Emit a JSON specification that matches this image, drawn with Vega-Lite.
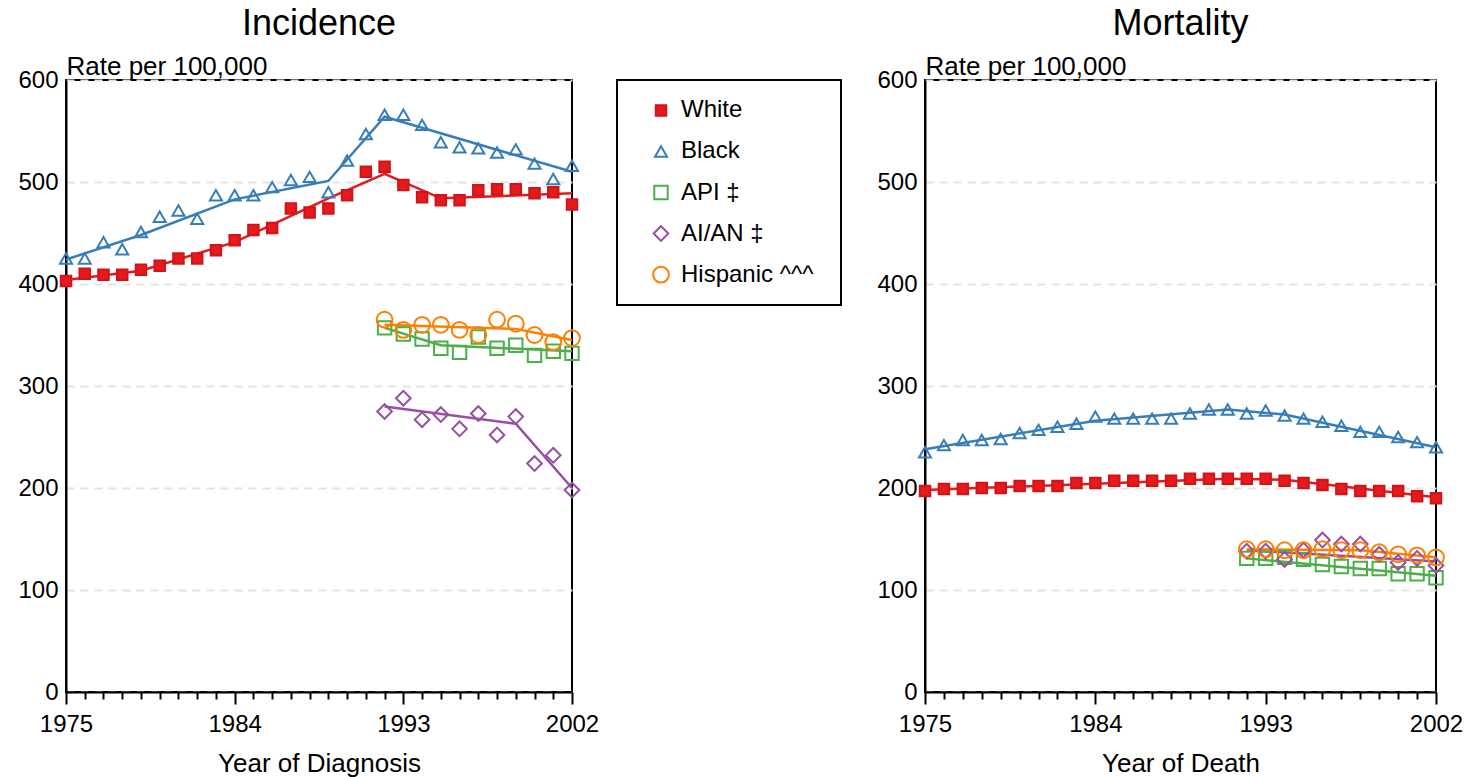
{
  "$schema": "https://vega.github.io/schema/vega-lite/v6.json",
  "background": "white",
  "padding": {"left": 16, "top": 1, "right": 5, "bottom": 0},
  "config": {
    "font": "Liberation Sans",
    "view": {"stroke": "black", "strokeWidth": 2},
    "axis": {
      "labelFont": "Liberation Sans", "labelFontSize": 24, "labelColor": "black",
      "titleFont": "Liberation Sans", "titleFontSize": 26, "titleFontWeight": "normal", "titleColor": "black",
      "domainColor": "black", "domainWidth": 2, "tickColor": "black", "tickWidth": 2
    },
    "title": {"font": "Liberation Sans", "fontSize": 36, "fontWeight": "normal", "color": "black", "offset": 10}
  },
  "datasets": {
    "legend": [
      {"group": "White"},
      {"group": "Black"},
      {"group": "API ‡"},
      {"group": "AI/AN ‡"},
      {"group": "Hispanic ^^^"}
    ],
    "points": [
      {"panel": "Incidence", "group": "White", "year": 1975, "rate": 403},
      {"panel": "Incidence", "group": "White", "year": 1976, "rate": 410},
      {"panel": "Incidence", "group": "White", "year": 1977, "rate": 409},
      {"panel": "Incidence", "group": "White", "year": 1978, "rate": 409},
      {"panel": "Incidence", "group": "White", "year": 1979, "rate": 414},
      {"panel": "Incidence", "group": "White", "year": 1980, "rate": 418},
      {"panel": "Incidence", "group": "White", "year": 1981, "rate": 425},
      {"panel": "Incidence", "group": "White", "year": 1982, "rate": 425},
      {"panel": "Incidence", "group": "White", "year": 1983, "rate": 433},
      {"panel": "Incidence", "group": "White", "year": 1984, "rate": 443},
      {"panel": "Incidence", "group": "White", "year": 1985, "rate": 453},
      {"panel": "Incidence", "group": "White", "year": 1986, "rate": 455},
      {"panel": "Incidence", "group": "White", "year": 1987, "rate": 474},
      {"panel": "Incidence", "group": "White", "year": 1988, "rate": 470},
      {"panel": "Incidence", "group": "White", "year": 1989, "rate": 474},
      {"panel": "Incidence", "group": "White", "year": 1990, "rate": 487},
      {"panel": "Incidence", "group": "White", "year": 1991, "rate": 510},
      {"panel": "Incidence", "group": "White", "year": 1992, "rate": 515},
      {"panel": "Incidence", "group": "White", "year": 1993, "rate": 497},
      {"panel": "Incidence", "group": "White", "year": 1994, "rate": 485},
      {"panel": "Incidence", "group": "White", "year": 1995, "rate": 482},
      {"panel": "Incidence", "group": "White", "year": 1996, "rate": 482},
      {"panel": "Incidence", "group": "White", "year": 1997, "rate": 492},
      {"panel": "Incidence", "group": "White", "year": 1998, "rate": 493},
      {"panel": "Incidence", "group": "White", "year": 1999, "rate": 493},
      {"panel": "Incidence", "group": "White", "year": 2000, "rate": 489},
      {"panel": "Incidence", "group": "White", "year": 2001, "rate": 490},
      {"panel": "Incidence", "group": "White", "year": 2002, "rate": 478},
      {"panel": "Incidence", "group": "Black", "year": 1975, "rate": 425},
      {"panel": "Incidence", "group": "Black", "year": 1976, "rate": 425},
      {"panel": "Incidence", "group": "Black", "year": 1977, "rate": 441},
      {"panel": "Incidence", "group": "Black", "year": 1978, "rate": 434},
      {"panel": "Incidence", "group": "Black", "year": 1979, "rate": 451},
      {"panel": "Incidence", "group": "Black", "year": 1980, "rate": 466},
      {"panel": "Incidence", "group": "Black", "year": 1981, "rate": 472},
      {"panel": "Incidence", "group": "Black", "year": 1982, "rate": 464},
      {"panel": "Incidence", "group": "Black", "year": 1983, "rate": 487},
      {"panel": "Incidence", "group": "Black", "year": 1984, "rate": 487},
      {"panel": "Incidence", "group": "Black", "year": 1985, "rate": 487},
      {"panel": "Incidence", "group": "Black", "year": 1986, "rate": 495},
      {"panel": "Incidence", "group": "Black", "year": 1987, "rate": 502},
      {"panel": "Incidence", "group": "Black", "year": 1988, "rate": 505},
      {"panel": "Incidence", "group": "Black", "year": 1989, "rate": 490},
      {"panel": "Incidence", "group": "Black", "year": 1990, "rate": 521},
      {"panel": "Incidence", "group": "Black", "year": 1991, "rate": 547},
      {"panel": "Incidence", "group": "Black", "year": 1992, "rate": 566},
      {"panel": "Incidence", "group": "Black", "year": 1993, "rate": 566},
      {"panel": "Incidence", "group": "Black", "year": 1994, "rate": 556},
      {"panel": "Incidence", "group": "Black", "year": 1995, "rate": 539},
      {"panel": "Incidence", "group": "Black", "year": 1996, "rate": 534},
      {"panel": "Incidence", "group": "Black", "year": 1997, "rate": 533},
      {"panel": "Incidence", "group": "Black", "year": 1998, "rate": 529},
      {"panel": "Incidence", "group": "Black", "year": 1999, "rate": 532},
      {"panel": "Incidence", "group": "Black", "year": 2000, "rate": 518},
      {"panel": "Incidence", "group": "Black", "year": 2001, "rate": 503},
      {"panel": "Incidence", "group": "Black", "year": 2002, "rate": 516},
      {"panel": "Incidence", "group": "API ‡", "year": 1992, "rate": 357},
      {"panel": "Incidence", "group": "API ‡", "year": 1993, "rate": 351},
      {"panel": "Incidence", "group": "API ‡", "year": 1994, "rate": 346},
      {"panel": "Incidence", "group": "API ‡", "year": 1995, "rate": 337},
      {"panel": "Incidence", "group": "API ‡", "year": 1996, "rate": 333},
      {"panel": "Incidence", "group": "API ‡", "year": 1997, "rate": 348},
      {"panel": "Incidence", "group": "API ‡", "year": 1998, "rate": 337},
      {"panel": "Incidence", "group": "API ‡", "year": 1999, "rate": 340},
      {"panel": "Incidence", "group": "API ‡", "year": 2000, "rate": 330},
      {"panel": "Incidence", "group": "API ‡", "year": 2001, "rate": 334},
      {"panel": "Incidence", "group": "API ‡", "year": 2002, "rate": 332},
      {"panel": "Incidence", "group": "AI/AN ‡", "year": 1992, "rate": 275},
      {"panel": "Incidence", "group": "AI/AN ‡", "year": 1993, "rate": 288},
      {"panel": "Incidence", "group": "AI/AN ‡", "year": 1994, "rate": 267},
      {"panel": "Incidence", "group": "AI/AN ‡", "year": 1995, "rate": 272},
      {"panel": "Incidence", "group": "AI/AN ‡", "year": 1996, "rate": 258},
      {"panel": "Incidence", "group": "AI/AN ‡", "year": 1997, "rate": 273},
      {"panel": "Incidence", "group": "AI/AN ‡", "year": 1998, "rate": 252},
      {"panel": "Incidence", "group": "AI/AN ‡", "year": 1999, "rate": 270},
      {"panel": "Incidence", "group": "AI/AN ‡", "year": 2000, "rate": 224},
      {"panel": "Incidence", "group": "AI/AN ‡", "year": 2001, "rate": 232},
      {"panel": "Incidence", "group": "AI/AN ‡", "year": 2002, "rate": 198},
      {"panel": "Incidence", "group": "Hispanic ^^^", "year": 1992, "rate": 365},
      {"panel": "Incidence", "group": "Hispanic ^^^", "year": 1993, "rate": 355},
      {"panel": "Incidence", "group": "Hispanic ^^^", "year": 1994, "rate": 360},
      {"panel": "Incidence", "group": "Hispanic ^^^", "year": 1995, "rate": 360},
      {"panel": "Incidence", "group": "Hispanic ^^^", "year": 1996, "rate": 355},
      {"panel": "Incidence", "group": "Hispanic ^^^", "year": 1997, "rate": 350},
      {"panel": "Incidence", "group": "Hispanic ^^^", "year": 1998, "rate": 365},
      {"panel": "Incidence", "group": "Hispanic ^^^", "year": 1999, "rate": 361},
      {"panel": "Incidence", "group": "Hispanic ^^^", "year": 2000, "rate": 350},
      {"panel": "Incidence", "group": "Hispanic ^^^", "year": 2001, "rate": 343},
      {"panel": "Incidence", "group": "Hispanic ^^^", "year": 2002, "rate": 347},
      {"panel": "Mortality", "group": "White", "year": 1975, "rate": 197},
      {"panel": "Mortality", "group": "White", "year": 1976, "rate": 199},
      {"panel": "Mortality", "group": "White", "year": 1977, "rate": 199},
      {"panel": "Mortality", "group": "White", "year": 1978, "rate": 200},
      {"panel": "Mortality", "group": "White", "year": 1979, "rate": 200},
      {"panel": "Mortality", "group": "White", "year": 1980, "rate": 202},
      {"panel": "Mortality", "group": "White", "year": 1981, "rate": 202},
      {"panel": "Mortality", "group": "White", "year": 1982, "rate": 202},
      {"panel": "Mortality", "group": "White", "year": 1983, "rate": 205},
      {"panel": "Mortality", "group": "White", "year": 1984, "rate": 205},
      {"panel": "Mortality", "group": "White", "year": 1985, "rate": 207},
      {"panel": "Mortality", "group": "White", "year": 1986, "rate": 207},
      {"panel": "Mortality", "group": "White", "year": 1987, "rate": 207},
      {"panel": "Mortality", "group": "White", "year": 1988, "rate": 207},
      {"panel": "Mortality", "group": "White", "year": 1989, "rate": 209},
      {"panel": "Mortality", "group": "White", "year": 1990, "rate": 209},
      {"panel": "Mortality", "group": "White", "year": 1991, "rate": 209},
      {"panel": "Mortality", "group": "White", "year": 1992, "rate": 209},
      {"panel": "Mortality", "group": "White", "year": 1993, "rate": 209},
      {"panel": "Mortality", "group": "White", "year": 1994, "rate": 207},
      {"panel": "Mortality", "group": "White", "year": 1995, "rate": 205},
      {"panel": "Mortality", "group": "White", "year": 1996, "rate": 203},
      {"panel": "Mortality", "group": "White", "year": 1997, "rate": 199},
      {"panel": "Mortality", "group": "White", "year": 1998, "rate": 197},
      {"panel": "Mortality", "group": "White", "year": 1999, "rate": 197},
      {"panel": "Mortality", "group": "White", "year": 2000, "rate": 197},
      {"panel": "Mortality", "group": "White", "year": 2001, "rate": 192},
      {"panel": "Mortality", "group": "White", "year": 2002, "rate": 190},
      {"panel": "Mortality", "group": "Black", "year": 1975, "rate": 235},
      {"panel": "Mortality", "group": "Black", "year": 1976, "rate": 242},
      {"panel": "Mortality", "group": "Black", "year": 1977, "rate": 247},
      {"panel": "Mortality", "group": "Black", "year": 1978, "rate": 247},
      {"panel": "Mortality", "group": "Black", "year": 1979, "rate": 248},
      {"panel": "Mortality", "group": "Black", "year": 1980, "rate": 254},
      {"panel": "Mortality", "group": "Black", "year": 1981, "rate": 257},
      {"panel": "Mortality", "group": "Black", "year": 1982, "rate": 260},
      {"panel": "Mortality", "group": "Black", "year": 1983, "rate": 263},
      {"panel": "Mortality", "group": "Black", "year": 1984, "rate": 270},
      {"panel": "Mortality", "group": "Black", "year": 1985, "rate": 268},
      {"panel": "Mortality", "group": "Black", "year": 1986, "rate": 268},
      {"panel": "Mortality", "group": "Black", "year": 1987, "rate": 268},
      {"panel": "Mortality", "group": "Black", "year": 1988, "rate": 268},
      {"panel": "Mortality", "group": "Black", "year": 1989, "rate": 273},
      {"panel": "Mortality", "group": "Black", "year": 1990, "rate": 277},
      {"panel": "Mortality", "group": "Black", "year": 1991, "rate": 277},
      {"panel": "Mortality", "group": "Black", "year": 1992, "rate": 273},
      {"panel": "Mortality", "group": "Black", "year": 1993, "rate": 276},
      {"panel": "Mortality", "group": "Black", "year": 1994, "rate": 271},
      {"panel": "Mortality", "group": "Black", "year": 1995, "rate": 268},
      {"panel": "Mortality", "group": "Black", "year": 1996, "rate": 265},
      {"panel": "Mortality", "group": "Black", "year": 1997, "rate": 261},
      {"panel": "Mortality", "group": "Black", "year": 1998, "rate": 255},
      {"panel": "Mortality", "group": "Black", "year": 1999, "rate": 255},
      {"panel": "Mortality", "group": "Black", "year": 2000, "rate": 250},
      {"panel": "Mortality", "group": "Black", "year": 2001, "rate": 245},
      {"panel": "Mortality", "group": "Black", "year": 2002, "rate": 240},
      {"panel": "Mortality", "group": "API ‡", "year": 1992, "rate": 131},
      {"panel": "Mortality", "group": "API ‡", "year": 1993, "rate": 131},
      {"panel": "Mortality", "group": "API ‡", "year": 1994, "rate": 132},
      {"panel": "Mortality", "group": "API ‡", "year": 1995, "rate": 130},
      {"panel": "Mortality", "group": "API ‡", "year": 1996, "rate": 125},
      {"panel": "Mortality", "group": "API ‡", "year": 1997, "rate": 123},
      {"panel": "Mortality", "group": "API ‡", "year": 1998, "rate": 121},
      {"panel": "Mortality", "group": "API ‡", "year": 1999, "rate": 121},
      {"panel": "Mortality", "group": "API ‡", "year": 2000, "rate": 116},
      {"panel": "Mortality", "group": "API ‡", "year": 2001, "rate": 116},
      {"panel": "Mortality", "group": "API ‡", "year": 2002, "rate": 112},
      {"panel": "Mortality", "group": "AI/AN ‡", "year": 1992, "rate": 138},
      {"panel": "Mortality", "group": "AI/AN ‡", "year": 1993, "rate": 138},
      {"panel": "Mortality", "group": "AI/AN ‡", "year": 1994, "rate": 130},
      {"panel": "Mortality", "group": "AI/AN ‡", "year": 1995, "rate": 139},
      {"panel": "Mortality", "group": "AI/AN ‡", "year": 1996, "rate": 149},
      {"panel": "Mortality", "group": "AI/AN ‡", "year": 1997, "rate": 145},
      {"panel": "Mortality", "group": "AI/AN ‡", "year": 1998, "rate": 145},
      {"panel": "Mortality", "group": "AI/AN ‡", "year": 1999, "rate": 135},
      {"panel": "Mortality", "group": "AI/AN ‡", "year": 2000, "rate": 127},
      {"panel": "Mortality", "group": "AI/AN ‡", "year": 2001, "rate": 131},
      {"panel": "Mortality", "group": "AI/AN ‡", "year": 2002, "rate": 124},
      {"panel": "Mortality", "group": "Hispanic ^^^", "year": 1992, "rate": 140},
      {"panel": "Mortality", "group": "Hispanic ^^^", "year": 1993, "rate": 140},
      {"panel": "Mortality", "group": "Hispanic ^^^", "year": 1994, "rate": 139},
      {"panel": "Mortality", "group": "Hispanic ^^^", "year": 1995, "rate": 139},
      {"panel": "Mortality", "group": "Hispanic ^^^", "year": 1996, "rate": 140},
      {"panel": "Mortality", "group": "Hispanic ^^^", "year": 1997, "rate": 139},
      {"panel": "Mortality", "group": "Hispanic ^^^", "year": 1998, "rate": 139},
      {"panel": "Mortality", "group": "Hispanic ^^^", "year": 1999, "rate": 137},
      {"panel": "Mortality", "group": "Hispanic ^^^", "year": 2000, "rate": 135},
      {"panel": "Mortality", "group": "Hispanic ^^^", "year": 2001, "rate": 134},
      {"panel": "Mortality", "group": "Hispanic ^^^", "year": 2002, "rate": 132}
    ],
    "trend": [
      {"panel": "Incidence", "group": "White", "year": 1975, "rate": 404},
      {"panel": "Incidence", "group": "White", "year": 1979, "rate": 413},
      {"panel": "Incidence", "group": "White", "year": 1984, "rate": 441},
      {"panel": "Incidence", "group": "White", "year": 1989, "rate": 484},
      {"panel": "Incidence", "group": "White", "year": 1992, "rate": 508},
      {"panel": "Incidence", "group": "White", "year": 1995, "rate": 484},
      {"panel": "Incidence", "group": "White", "year": 2002, "rate": 489},
      {"panel": "Incidence", "group": "Black", "year": 1975, "rate": 424},
      {"panel": "Incidence", "group": "Black", "year": 1979, "rate": 448},
      {"panel": "Incidence", "group": "Black", "year": 1984, "rate": 483},
      {"panel": "Incidence", "group": "Black", "year": 1989, "rate": 501},
      {"panel": "Incidence", "group": "Black", "year": 1992, "rate": 564},
      {"panel": "Incidence", "group": "Black", "year": 2002, "rate": 510},
      {"panel": "Incidence", "group": "API ‡", "year": 1992, "rate": 357},
      {"panel": "Incidence", "group": "API ‡", "year": 1995, "rate": 340},
      {"panel": "Incidence", "group": "API ‡", "year": 2002, "rate": 334},
      {"panel": "Incidence", "group": "AI/AN ‡", "year": 1992, "rate": 280},
      {"panel": "Incidence", "group": "AI/AN ‡", "year": 1999, "rate": 263},
      {"panel": "Incidence", "group": "AI/AN ‡", "year": 2002, "rate": 200},
      {"panel": "Incidence", "group": "Hispanic ^^^", "year": 1992, "rate": 360},
      {"panel": "Incidence", "group": "Hispanic ^^^", "year": 1999, "rate": 356},
      {"panel": "Incidence", "group": "Hispanic ^^^", "year": 2002, "rate": 345},
      {"panel": "Mortality", "group": "White", "year": 1975, "rate": 198},
      {"panel": "Mortality", "group": "White", "year": 1991, "rate": 209},
      {"panel": "Mortality", "group": "White", "year": 1994, "rate": 208},
      {"panel": "Mortality", "group": "White", "year": 2002, "rate": 191},
      {"panel": "Mortality", "group": "Black", "year": 1975, "rate": 238},
      {"panel": "Mortality", "group": "Black", "year": 1984, "rate": 266},
      {"panel": "Mortality", "group": "Black", "year": 1991, "rate": 277},
      {"panel": "Mortality", "group": "Black", "year": 1994, "rate": 272},
      {"panel": "Mortality", "group": "Black", "year": 2002, "rate": 240},
      {"panel": "Mortality", "group": "API ‡", "year": 1992, "rate": 131},
      {"panel": "Mortality", "group": "API ‡", "year": 2002, "rate": 114},
      {"panel": "Mortality", "group": "AI/AN ‡", "year": 1992, "rate": 139},
      {"panel": "Mortality", "group": "AI/AN ‡", "year": 2002, "rate": 128},
      {"panel": "Mortality", "group": "Hispanic ^^^", "year": 1992, "rate": 140},
      {"panel": "Mortality", "group": "Hispanic ^^^", "year": 1998, "rate": 139},
      {"panel": "Mortality", "group": "Hispanic ^^^", "year": 2002, "rate": 132}
    ]
  },
  "spacing": 16,
  "hconcat": [
    {
      "width": 506,
      "height": 612,
      "title": {"text": "Incidence"},
      "layer": [
        {
          "data": {"name": "trend"},
          "transform": [{"filter": "datum.panel === 'Incidence'"}],
          "mark": {"type": "line", "strokeWidth": 2.5},
          "encoding": {
            "x": {"field": "year", "type": "quantitative", "scale": {"domain": [1975, 2002], "nice": false, "zero": false},
              "axis": {"title": "Year of Diagnosis", "values": [1975,1976,1977,1978,1979,1980,1981,1982,1983,1984,1985,1986,1987,1988,1989,1990,1991,1992,1993,1994,1995,1996,1997,1998,1999,2000,2001,2002],
                "tickCount": 40, "format": "d", "labelExpr": "indexof([1975,1984,1993,2002], datum.value) >= 0 ? datum.label : ''",
                "labelOverlap": false, "labelFlush": false, "grid": false,
                "tickSize": {"condition": {"test": "indexof([1975,1984,1993,2002], datum.value) >= 0", "value": 12}, "value": 7},
                "labelPadding": 8, "titlePadding": 14}},
            "y": {"field": "rate", "type": "quantitative", "scale": {"domain": [0, 600], "nice": false},
              "axis": {"title": "Rate per 100,000", "values": [0,100,200,300,400,500,600], "ticks": false, "labelPadding": 8,
                "grid": true, "gridDash": [8, 6], "gridColor": "#e4e4e4", "gridWidth": 2,
                "titleAngle": 0, "titleAlign": "left", "titleBaseline": "alphabetic", "titleX": 0, "titleY": -6}},
            "color": {"field": "group", "type": "nominal", "legend": null,
              "scale": {"domain": ["White", "Black", "API ‡", "AI/AN ‡", "Hispanic ^^^"], "range": ["#e41a1c", "#377eb8", "#4daf4a", "#984ea3", "#ff7f00"]}}
          }
        },
        {
          "data": {"name": "points"},
          "transform": [{"filter": "datum.panel === 'Incidence'"}],
          "mark": {"type": "point", "strokeWidth": 2, "opacity": 1},
          "encoding": {
            "x": {"field": "year", "type": "quantitative"},
            "y": {"field": "rate", "type": "quantitative"},
            "shape": {"field": "group", "type": "nominal", "legend": null,
              "scale": {"domain": ["White", "Black", "API ‡", "AI/AN ‡", "Hispanic ^^^"], "range": ["square", "triangle-up", "square", "diamond", "circle"]}},
            "stroke": {"field": "group", "type": "nominal", "legend": null,
              "scale": {"domain": ["White", "Black", "API ‡", "AI/AN ‡", "Hispanic ^^^"], "range": ["#d0141a", "#377eb8", "#4daf4a", "#984ea3", "#ff7f00"]}},
            "fill": {"field": "group", "type": "nominal", "legend": null,
              "scale": {"domain": ["White", "Black", "API ‡", "AI/AN ‡", "Hispanic ^^^"], "range": ["#e41a1c", "transparent", "transparent", "transparent", "transparent"]}},
            "size": {"field": "group", "type": "nominal", "legend": null,
              "scale": {"domain": ["White", "Black", "API ‡", "AI/AN ‡", "Hispanic ^^^"], "range": [110, 250, 220, 300, 240]}}
          }
        }
      ]
    },
    {
      "width": 224,
      "height": 225,
      "title": {"text": " ", "anchor": "end", "dx": 17, "offset": 41},
      "data": {"name": "legend"},
      "layer": [
        {
          "mark": {"type": "point", "strokeWidth": 2, "opacity": 1},
          "encoding": {
            "x": {"datum": "symbol", "type": "nominal", "scale": {"type": "point", "padding": 0, "domain": ["symbol", "label"], "range": [44, 64]}, "axis": null},
            "y": {"field": "group", "type": "nominal", "sort": ["White", "Black", "API ‡", "AI/AN ‡", "Hispanic ^^^"],
              "scale": {"type": "point", "padding": 0.74, "domain": ["White", "Black", "API ‡", "AI/AN ‡", "Hispanic ^^^"]}, "axis": null},
            "shape": {"field": "group", "type": "nominal", "legend": null},
            "stroke": {"field": "group", "type": "nominal", "legend": null},
            "fill": {"field": "group", "type": "nominal", "legend": null},
            "size": {"field": "group", "type": "nominal", "legend": null}
          }
        },
        {
          "mark": {"type": "text", "align": "left", "baseline": "middle", "fontSize": 24, "font": "Liberation Sans", "color": "black"},
          "encoding": {
            "x": {"datum": "label", "type": "nominal"},
            "y": {"field": "group", "type": "nominal"},
            "text": {"field": "group"}
          }
        }
      ]
    },
    {
      "width": 511,
      "height": 612,
      "title": {"text": "Mortality"},
      "layer": [
        {
          "data": {"name": "trend"},
          "transform": [{"filter": "datum.panel === 'Mortality'"}],
          "mark": {"type": "line", "strokeWidth": 2.5},
          "encoding": {
            "x": {"field": "year", "type": "quantitative", "scale": {"domain": [1975, 2002], "nice": false, "zero": false},
              "axis": {"title": "Year of Death", "values": [1975,1976,1977,1978,1979,1980,1981,1982,1983,1984,1985,1986,1987,1988,1989,1990,1991,1992,1993,1994,1995,1996,1997,1998,1999,2000,2001,2002],
                "tickCount": 40, "format": "d", "labelExpr": "indexof([1975,1984,1993,2002], datum.value) >= 0 ? datum.label : ''",
                "labelOverlap": false, "labelFlush": false, "grid": false,
                "tickSize": {"condition": {"test": "indexof([1975,1984,1993,2002], datum.value) >= 0", "value": 12}, "value": 7},
                "labelPadding": 8, "titlePadding": 14}},
            "y": {"field": "rate", "type": "quantitative", "scale": {"domain": [0, 600], "nice": false},
              "axis": {"title": "Rate per 100,000", "values": [0,100,200,300,400,500,600], "ticks": false, "labelPadding": 8,
                "grid": true, "gridDash": [8, 6], "gridColor": "#e4e4e4", "gridWidth": 2,
                "titleAngle": 0, "titleAlign": "left", "titleBaseline": "alphabetic", "titleX": 0, "titleY": -6}},
            "color": {"field": "group", "type": "nominal", "legend": null}
          }
        },
        {
          "data": {"name": "points"},
          "transform": [{"filter": "datum.panel === 'Mortality'"}],
          "mark": {"type": "point", "strokeWidth": 2, "opacity": 1},
          "encoding": {
            "x": {"field": "year", "type": "quantitative"},
            "y": {"field": "rate", "type": "quantitative"},
            "shape": {"field": "group", "type": "nominal", "legend": null},
            "stroke": {"field": "group", "type": "nominal", "legend": null},
            "fill": {"field": "group", "type": "nominal", "legend": null},
            "size": {"field": "group", "type": "nominal", "legend": null}
          }
        }
      ]
    }
  ]
}
